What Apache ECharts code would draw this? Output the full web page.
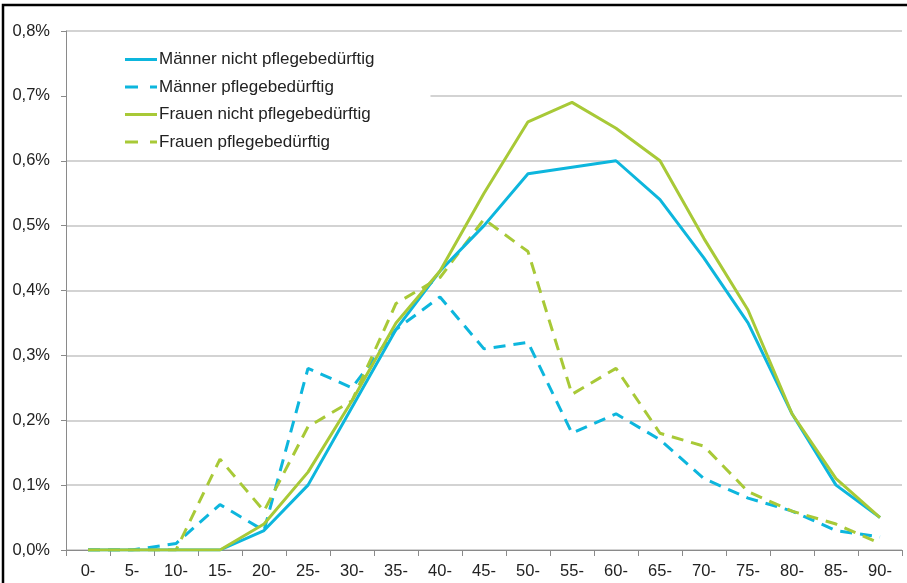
<!DOCTYPE html>
<html><head><meta charset="utf-8">
<script src="https://cdn.jsdelivr.net/npm/echarts@6/dist/echarts.min.js"></script>
<style>html,body{margin:0;padding:0;background:#fff}#c{width:907px;height:583px}</style>
</head><body><div id="c"></div>
<script>
const categories = ['0-','5-','10-','15-','20-','25-','30-','35-','40-','45-','50-','55-','60-','65-','70-','75-','80-','85-','90-'];
const maennerNicht = [0,0,0,0,0.03,0.10,0.22,0.34,0.43,0.50,0.58,0.59,0.60,0.54,0.45,0.35,0.21,0.10,0.05];
const maennerPflege = [0,0,0.01,0.07,0.03,0.28,0.25,0.34,0.39,0.31,0.32,0.18,0.21,0.17,0.11,0.08,0.06,0.03,0.02];
const frauenNicht = [0,0,0,0,0.04,0.12,0.23,0.35,0.43,0.55,0.66,0.69,0.65,0.60,0.48,0.37,0.21,0.11,0.05];
const frauenPflege = [0,0,0,0.14,0.06,0.19,0.23,0.38,0.42,0.51,0.46,0.24,0.28,0.18,0.16,0.09,0.06,0.04,0.01];
const seriesNames = ['Männer nicht pflegebedürftig','Männer pflegebedürftig','Frauen nicht pflegebedürftig','Frauen pflegebedürftig'];

const BLUE = '#0db6dd', GREEN = '#a8c937';
const FONT = '"Liberation Sans", Arial, sans-serif';
const SOLID_ICON = 'path://M0,0H32V3H0Z';
const DASH_ICON = 'path://M0,0H13V3H0Z M25,0H32V3H25Z';
const chart = echarts.init(document.getElementById('c'));
function mk(name, data, color, dashed, z) {
  return {name, type:'line', data, symbol:'none', z,
    lineStyle:{color, width:3, type: dashed ? [12,8] : 'solid'},
    itemStyle:{color}};
}
chart.setOption({
  animation:false,
  textStyle:{fontFamily:FONT},
  grid:{left:66, right:5, top:31, bottom:33},
  legend:{orient:'vertical', left:67, top:45, itemWidth:32, itemHeight:3, itemGap:10.5,
    backgroundColor:'#fff', padding:[6,56,8,58],
    textStyle:{fontSize:17, color:'#222', fontFamily:FONT, padding:[0,0,0,-3]},
    data:[
      {name:seriesNames[0], icon:SOLID_ICON, itemStyle:{color:BLUE}},
      {name:seriesNames[1], icon:DASH_ICON, itemStyle:{color:BLUE}},
      {name:seriesNames[2], icon:SOLID_ICON, itemStyle:{color:GREEN}},
      {name:seriesNames[3], icon:DASH_ICON, itemStyle:{color:GREEN}}
    ]},
  xAxis:{type:'category', data:categories, boundaryGap:true,
    axisLine:{lineStyle:{color:'#8a8a8a', width:1}},
    axisTick:{show:true, alignWithLabel:false, length:6, lineStyle:{color:'#8a8a8a'}},
    axisLabel:{fontSize:16.5, color:'#222', margin:13, fontFamily:FONT}},
  yAxis:{type:'value', min:0, max:0.8, interval:0.1,
    axisLine:{show:true, lineStyle:{color:'#8a8a8a'}},
    axisTick:{show:true, length:5, inside:false, lineStyle:{color:'#8a8a8a'}},
    splitLine:{lineStyle:{color:'#c4c4c4', width:1.5}},
    axisLabel:{fontSize:16.5, color:'#222', margin:16, fontFamily:FONT, formatter:v=>v.toFixed(1).replace('.',',')+'%'}},
  series:[
    mk(seriesNames[1], maennerPflege, BLUE, true, 2),
    mk(seriesNames[3], frauenPflege, GREEN, true, 2),
    mk(seriesNames[0], maennerNicht, BLUE, false, 3),
    mk(seriesNames[2], frauenNicht, GREEN, false, 3)
  ],
  graphic:[{type:'rect', shape:{x:3, y:5, width:920, height:600}, style:{fill:'none', stroke:'#000', lineWidth:2.5}, silent:true, z:100}]
});
</script></body></html>
